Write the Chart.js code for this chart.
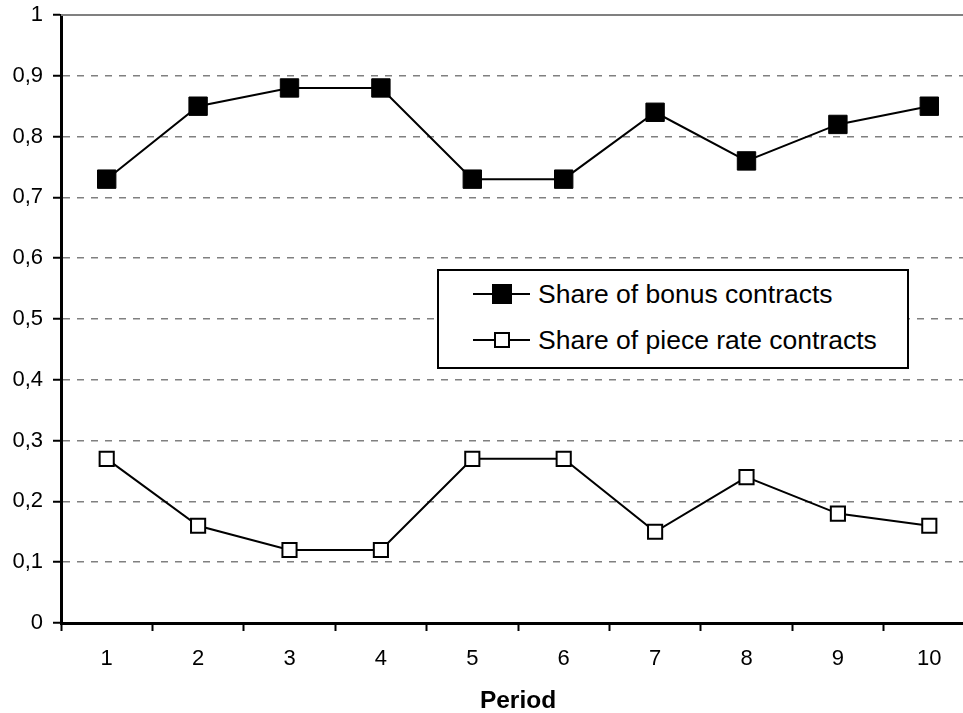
<!DOCTYPE html>
<html>
<head>
<meta charset="utf-8">
<script src="https://cdn.jsdelivr.net/npm/chart.js@4/dist/chart.umd.min.js"></script>
<style>
	html, body { margin: 0; padding: 0; background: #fff; overflow: hidden; }
	#wrap { position: relative; width: 975px; height: 713px; }
	#main-chart { display: block; }
	#legend {
		position: absolute; left: 437px; top: 269px; width: 468px; height: 96px;
		border: 2px solid #000; background: #fff;
		font-family: "Liberation Sans", Arial, sans-serif; font-size: 26.5px; color: #000;
	}
	.row { position: absolute; left: 34px; height: 30px; line-height: 30px; white-space: nowrap; }
	.sample { position: absolute; left: 0; top: 14px; width: 57px; height: 2px; background: #000; }
	.mark { position: absolute; box-sizing: border-box; background: #000; border: 2px solid #000; }
	.mark.open { background: #fff; }
	.row span.txt { position: absolute; left: 65px; top: 0; }
</style>
</head>
<body>
<div id="wrap">
	<canvas id="main-chart" width="975" height="713"></canvas>
	<div id="legend">
		<div class="row" style="top:8px">
			<div class="sample"></div>
			<div class="mark" style="left:19px;top:5px;width:20px;height:20px"></div>
			<span class="txt">Share of bonus contracts</span>
		</div>
		<div class="row" style="top:54px">
			<div class="sample"></div>
			<div class="mark open" style="left:21px;top:7px;width:16px;height:16px"></div>
			<span class="txt">Share of piece rate contracts</span>
		</div>
	</div>
</div>
<script>
var periods = ['1', '2', '3', '4', '5', '6', '7', '8', '9', '10'];
var bonusShare = [0.73, 0.85, 0.88, 0.88, 0.73, 0.73, 0.84, 0.76, 0.82, 0.85];
var pieceRateShare = [0.27, 0.16, 0.12, 0.12, 0.27, 0.27, 0.15, 0.24, 0.18, 0.16];
var yTicks = [0, 0.1, 0.2, 0.3, 0.4, 0.5, 0.6, 0.7, 0.8, 0.9, 1];

var fontFamily = '"Liberation Sans", Arial, sans-serif';

// solid grey line across the top of the plot, at the value 1
var topLine = {
	id: 'topLine',
	beforeDatasetsDraw(chart) {
		var y = chart.scales.y.getPixelForValue(1);
		var ctx = chart.ctx;
		ctx.save();
		ctx.strokeStyle = '#808080';
		ctx.lineWidth = 2;
		ctx.beginPath();
		ctx.moveTo(chart.chartArea.left, y);
		ctx.lineTo(chart.chartArea.right, y);
		ctx.stroke();
		ctx.restore();
	}
};

function noPadding(scale) {
	scale.paddingTop = 0;
	scale.paddingBottom = 0;
	scale.paddingLeft = 0;
	scale.paddingRight = 0;
}

function make() {
	var ctx = document.getElementById('main-chart');
	return new Chart(ctx, {
		type: 'line',
		data: {
			labels: periods,
			datasets: [
				{
					label: 'Share of bonus contracts',
					data: bonusShare,
					borderColor: '#000',
					borderWidth: 2,
					backgroundColor: '#000',
					pointStyle: 'rect',
					pointRadius: 13,
					pointBorderWidth: 1,
					pointBorderColor: '#000',
					pointBackgroundColor: '#000',
					tension: 0
				},
				{
					label: 'Share of piece rate contracts',
					data: pieceRateShare,
					borderColor: '#000',
					borderWidth: 2,
					backgroundColor: '#fff',
					pointStyle: 'rect',
					pointRadius: 10,
					pointBorderWidth: 2,
					pointBorderColor: '#000',
					pointBackgroundColor: '#fff',
					tension: 0
				}
			]
		},
		options: {
			responsive: false,
			devicePixelRatio: 1,
			animation: false,
			layout: { autoPadding: false, padding: { left: 0, right: 0, top: 15, bottom: 0 } },
			plugins: {
				legend: { display: false },
				tooltip: { enabled: false }
			},
			scales: {
				x: {
					type: 'category',
					offset: true,
					afterFit(scale) { scale.height = 90; noPadding(scale); },
					grid: {
						offset: true,
						drawOnChartArea: false,
						tickLength: 8,
						tickColor: '#000',
						tickWidth: 2
					},
					border: { color: '#000', width: 3 },
					ticks: {
						color: '#000',
						padding: 15,
						maxRotation: 0,
						font: { family: fontFamily, size: 22 }
					},
					title: {
						display: true,
						text: 'Period',
						color: '#000',
						padding: { top: 0, bottom: 0 },
						font: { family: fontFamily, size: 24.5, weight: 'bold', lineHeight: 1.0 }
					}
				},
				y: {
					min: 0,
					max: 1,
					afterFit(scale) { scale.width = 61; noPadding(scale); },
					afterBuildTicks(scale) {
						scale.ticks = yTicks.map(function (v) { return { value: v }; });
					},
					grid: {
						color: function (c) {
							var v = c.tick ? c.tick.value : 0;
							return (v === 0 || v === 1) ? 'rgba(0,0,0,0)' : '#808080';
						},
						lineWidth: 1.5,
						tickLength: 8,
						tickColor: '#000',
						tickWidth: 2
					},
					border: { color: '#000', width: 3, dash: [7, 7] },
					ticks: {
						color: '#000',
						padding: 10,
						font: { family: fontFamily, size: 22 },
						callback: function (v) {
							if (v === 0 || v === 1) return String(v);
							return v.toFixed(1).replace('.', ',');
						}
					}
				}
			}
		},
		plugins: [topLine]
	});
}

make();
</script>
</body>
</html>
